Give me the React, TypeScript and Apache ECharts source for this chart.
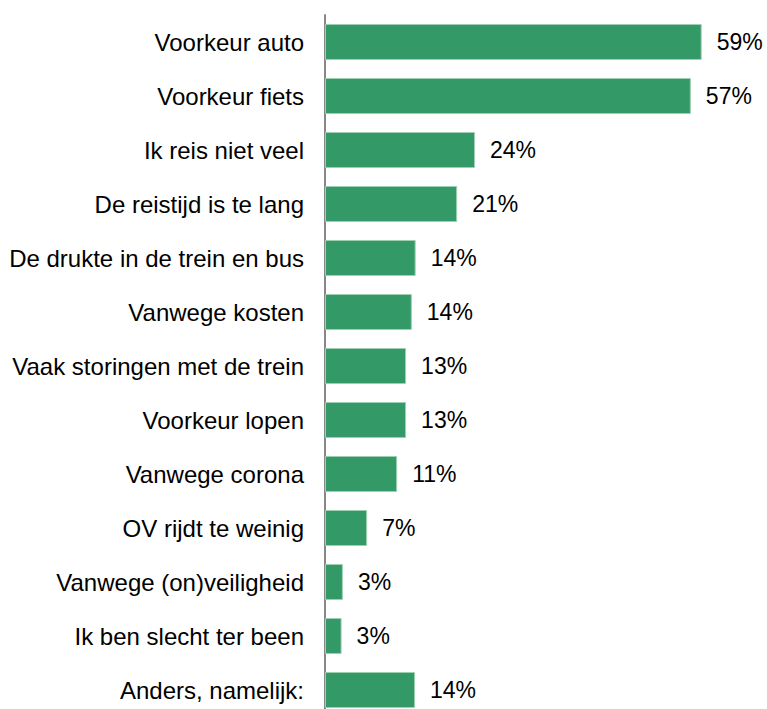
import React, { useEffect, useRef } from "react";
import * as echarts from "echarts";

const categories = [
  "Voorkeur auto",
  "Voorkeur fiets",
  "Ik reis niet veel",
  "De reistijd is te lang",
  "De drukte in de trein en bus",
  "Vanwege kosten",
  "Vaak storingen met de trein",
  "Voorkeur lopen",
  "Vanwege corona",
  "OV rijdt te weinig",
  "Vanwege (on)veiligheid",
  "Ik ben slecht ter been",
  "Anders, namelijk:",
];

const values = [59, 57.3, 23.5, 20.7, 14.2, 13.6, 12.7, 12.7, 11.3, 6.6, 2.8, 2.6, 14.1];

export default function App() {
  const ref = useRef<HTMLDivElement>(null);
  useEffect(() => {
    if (!ref.current) return;
    const chart = echarts.init(ref.current, undefined, { renderer: "svg" });
    chart.setOption({
      animation: false,
      grid: { left: 325, right: 27, top: 15, bottom: 0, containLabel: false },
      xAxis: {
        type: "value",
        min: 0,
        max: 65,
        show: false,
      },
      yAxis: {
        type: "category",
        data: categories,
        inverse: true,
        axisLine: { show: true, lineStyle: { color: "#888888", width: 2 } },
        axisTick: { show: false },
        axisLabel: {
          color: "#000000",
          fontSize: 24,
          fontFamily: "Liberation Sans, Arial, sans-serif",
          margin: 21,
        },
      },
      series: [
        {
          type: "bar",
          data: values,
          barWidth: 36,
          itemStyle: { color: "#339966", borderColor: "#9ed1b2", borderWidth: 1 },
          label: {
            show: true,
            position: "right",
            distance: 15,
            color: "#000000",
            fontSize: 23,
            fontFamily: "Liberation Sans, Arial, sans-serif",
            formatter: (p: any) => Math.round(p.value) + "%",
          },
        },
      ],
    });
    return () => chart.dispose();
  }, []);
  return (
    <div
      style={{
        position: "absolute",
        left: 0,
        top: 0,
        width: 767,
        height: 709,
        overflow: "hidden",
      }}
    >
      <div ref={ref} style={{ width: 767, height: 717 }} />
    </div>
  );
}
